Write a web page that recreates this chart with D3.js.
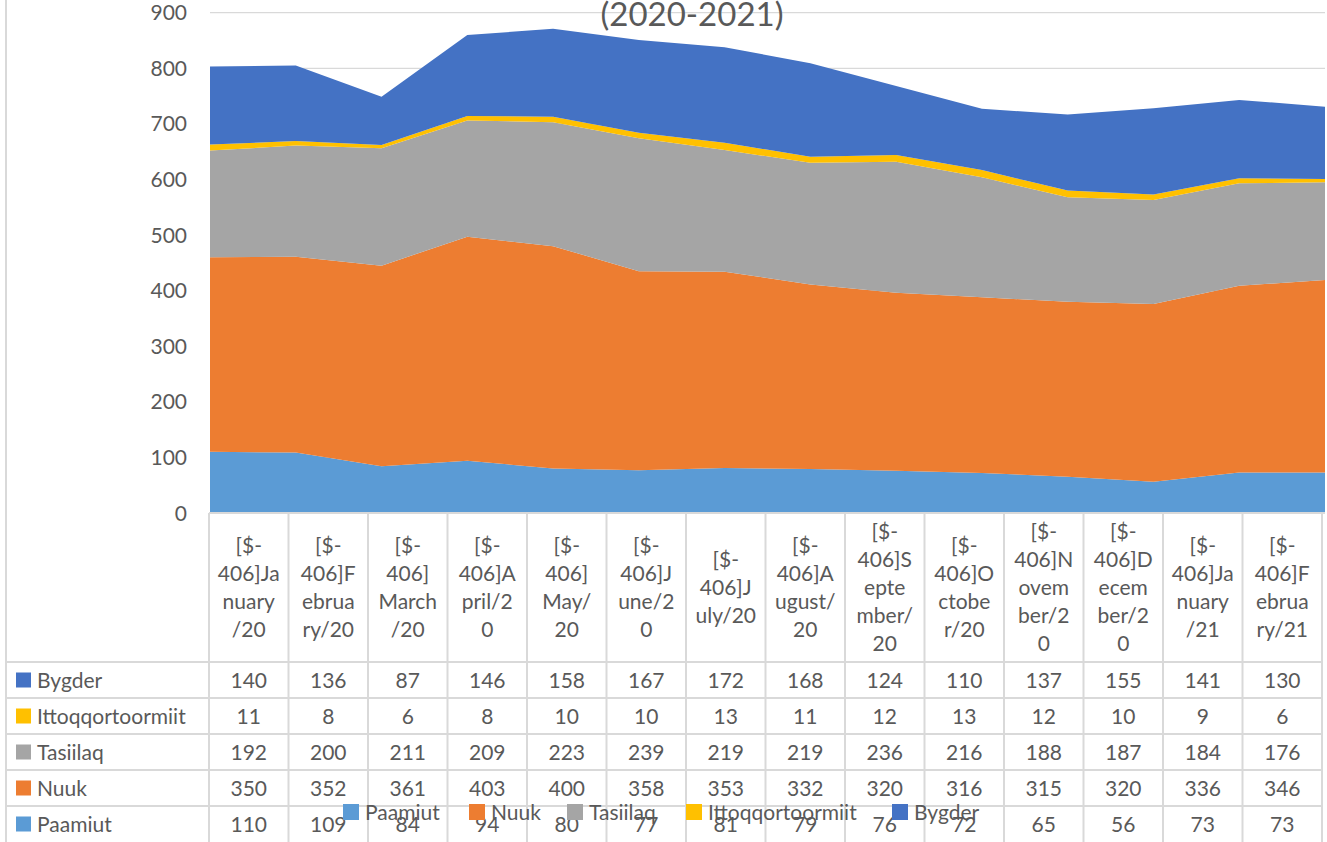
<!DOCTYPE html>
<html>
<head>
<meta charset="utf-8">
<script src="https://cdn.jsdelivr.net/npm/d3@7"></script>
<style>
  body { margin: 0; background: #fff; }
  svg text { font-family: Lato, "Liberation Sans", sans-serif; fill: #595959; }
</style>
</head>
<body>
<svg id="chart" width="1327" height="842"></svg>
<script>
// data

let months = ['Jan20', 'Feb20', 'Mar20', 'Apr20', 'May20', 'Jun20', 'Jul20',
    'Aug20', 'Sep20', 'Oct20', 'Nov20', 'Dec20', 'Jan21', 'Feb21'];

// header labels as Excel wraps them
let monthLabels = [
    ['[$-', '406]Ja', 'nuary', '/20'],
    ['[$-', '406]F', 'ebrua', 'ry/20'],
    ['[$-', '406]', 'March', '/20'],
    ['[$-', '406]A', 'pril/2', '0'],
    ['[$-', '406]', 'May/', '20'],
    ['[$-', '406]J', 'une/2', '0'],
    ['[$-', '406]J', 'uly/20'],
    ['[$-', '406]A', 'ugust/', '20'],
    ['[$-', '406]S', 'epte', 'mber/', '20'],
    ['[$-', '406]O', 'ctobe', 'r/20'],
    ['[$-', '406]N', 'ovem', 'ber/2', '0'],
    ['[$-', '406]D', 'ecem', 'ber/2', '0'],
    ['[$-', '406]Ja', 'nuary', '/21'],
    ['[$-', '406]F', 'ebrua', 'ry/21'],
];

let paamiut = [110, 109, 84, 94, 80, 77, 81, 79, 76, 72, 65, 56, 73, 73];
let nuuk = [350, 352, 361, 403, 400, 358, 353, 332, 320, 316, 315, 320, 336, 346];
let tasiilaq = [192, 200, 211, 209, 223, 239, 219, 219, 236, 216, 188, 187, 184, 176];
let ittoq = [11, 8, 6, 8, 10, 10, 13, 11, 12, 13, 12, 10, 9, 6];
let bygder = [140, 136, 87, 146, 158, 167, 172, 168, 124, 110, 137, 155, 141, 130];

let seriesNames = ['Paamiut', 'Nuuk', 'Tasiilaq', 'Ittoqqortoormiit', 'Bygder'];
let seriesValues = [paamiut, nuuk, tasiilaq, ittoq, bygder];
let seriesColors = ['#5b9bd5', '#ed7d31', '#a5a5a5', '#ffc000', '#4472c4'];
let yTicks = [0, 100, 200, 300, 400, 500, 600, 700, 800, 900];

// table rows are listed top-down in reverse order
let tableOrder = [4, 3, 2, 1, 0];

// build rows for stack

let rows = months.map((m, i) => {
    let row = { month: m };
    seriesNames.forEach((name, s) => row[name] = seriesValues[s][i]);
    return row;
});

let stacked = d3.stack().keys(seriesNames)(rows);

// scales

let svg = d3.select('#chart');

let x = d3.scalePoint()
    .domain(months)
    .range([210, 1325]);

let y = d3.scaleLinear()
    .domain([0, 900])
    .range([513, 12.7]);

let col = d3.scaleBand()
    .domain(months)
    .range([209, 1322]);

let gridColor = '#d9d9d9';
let fontSize = '21px';
let tableTop = 513;
let headerBottom = 662;
let rowH = 36;

// gridlines

svg.append('g')
    .selectAll('line')
    .data(yTicks.filter(d => d > 0))
    .join('line')
    .attr('x1', 210)
    .attr('x2', 1325)
    .attr('y1', d => y(d))
    .attr('y2', d => y(d))
    .attr('stroke', gridColor)
    .attr('stroke-width', 1.3);

// areas

let area = d3.area()
    .x(d => x(d.data.month))
    .y0(d => y(d[0]))
    .y1(d => y(d[1]));

svg.append('g')
    .selectAll('path')
    .data(stacked)
    .join('path')
    .attr('d', area)
    .attr('fill', (d, i) => seriesColors[i]);

// title (top line is cut off in the original)

svg.append('text')
    .attr('x', 692)
    .attr('y', 26)
    .attr('text-anchor', 'middle')
    .style('font-size', '33px')
    .text('(2020-2021)');

// y axis labels

svg.append('g')
    .selectAll('text')
    .data(yTicks)
    .join('text')
    .attr('x', 187)
    .attr('y', d => y(d))
    .attr('dy', '0.36em')
    .attr('text-anchor', 'end')
    .style('font-size', fontSize)
    .text(d => d);

// table grid

let grid = svg.append('g')
    .attr('stroke', gridColor)
    .attr('stroke-width', 2);

// category axis line
grid.append('line')
    .attr('x1', 209).attr('x2', 1325)
    .attr('y1', tableTop).attr('y2', tableTop);

// column boundaries
grid.selectAll('.colLine')
    .data(months.concat(['end']))
    .join('line')
    .classed('colLine', 1)
    .attr('x1', (d, i) => i < months.length ? col(d) : col.range()[1])
    .attr('x2', (d, i) => i < months.length ? col(d) : col.range()[1])
    .attr('y1', tableTop)
    .attr('y2', 842);

// row boundaries
grid.selectAll('.rowLine')
    .data(d3.range(5))
    .join('line')
    .classed('rowLine', 1)
    .attr('x1', 6)
    .attr('x2', 1322)
    .attr('y1', i => headerBottom + i * rowH)
    .attr('y2', i => headerBottom + i * rowH);

// outer left edge
grid.append('line')
    .attr('x1', 6).attr('x2', 6)
    .attr('y1', 0).attr('y2', 842);

// header labels

let header = svg.append('g')
    .selectAll('g')
    .data(months)
    .join('g')
    .attr('transform', d => `translate(${col(d) + col.bandwidth() / 2},${(tableTop + headerBottom) / 2})`);

header.each(function(d, i) {
    let lines = monthLabels[i];
    let lh = 28;
    let start = -(lines.length - 1) * lh / 2;
    d3.select(this).selectAll('text')
        .data(lines)
        .join('text')
        .attr('text-anchor', 'middle')
        .attr('y', (t, j) => start + j * lh)
        .attr('dy', '0.36em')
        .style('font-size', fontSize)
        .text(t => t);
});

// table rows

tableOrder.forEach((s, r) => {
    let cy = headerBottom + r * rowH + rowH / 2;
    let g = svg.append('g');

    g.append('rect')
        .attr('x', 16)
        .attr('y', cy - 7.5)
        .attr('width', 15)
        .attr('height', 15)
        .attr('fill', seriesColors[s]);

    g.append('text')
        .attr('x', 37)
        .attr('y', cy)
        .attr('dy', '0.36em')
        .style('font-size', fontSize)
        .text(seriesNames[s]);

    g.selectAll('.val')
        .data(seriesValues[s])
        .join('text')
        .classed('val', 1)
        .attr('x', (d, i) => col(months[i]) + col.bandwidth() / 2)
        .attr('y', cy)
        .attr('dy', '0.36em')
        .attr('text-anchor', 'middle')
        .style('font-size', fontSize)
        .text(d => d);
});

// legend (overlapping the table, like the original)

let legendX = [343, 469, 567, 686, 892];

let legend = svg.append('g')
    .selectAll('g')
    .data(seriesNames)
    .join('g')
    .attr('transform', (d, i) => `translate(${legendX[i]},812)`);

legend.append('rect')
    .attr('x', 0)
    .attr('y', -8)
    .attr('width', 16)
    .attr('height', 16)
    .attr('fill', (d, i) => seriesColors[i]);

legend.append('text')
    .attr('x', 22)
    .attr('y', 0)
    .attr('dy', '0.36em')
    .style('font-size', fontSize)
    .text(d => d);
</script>
</body>
</html>
